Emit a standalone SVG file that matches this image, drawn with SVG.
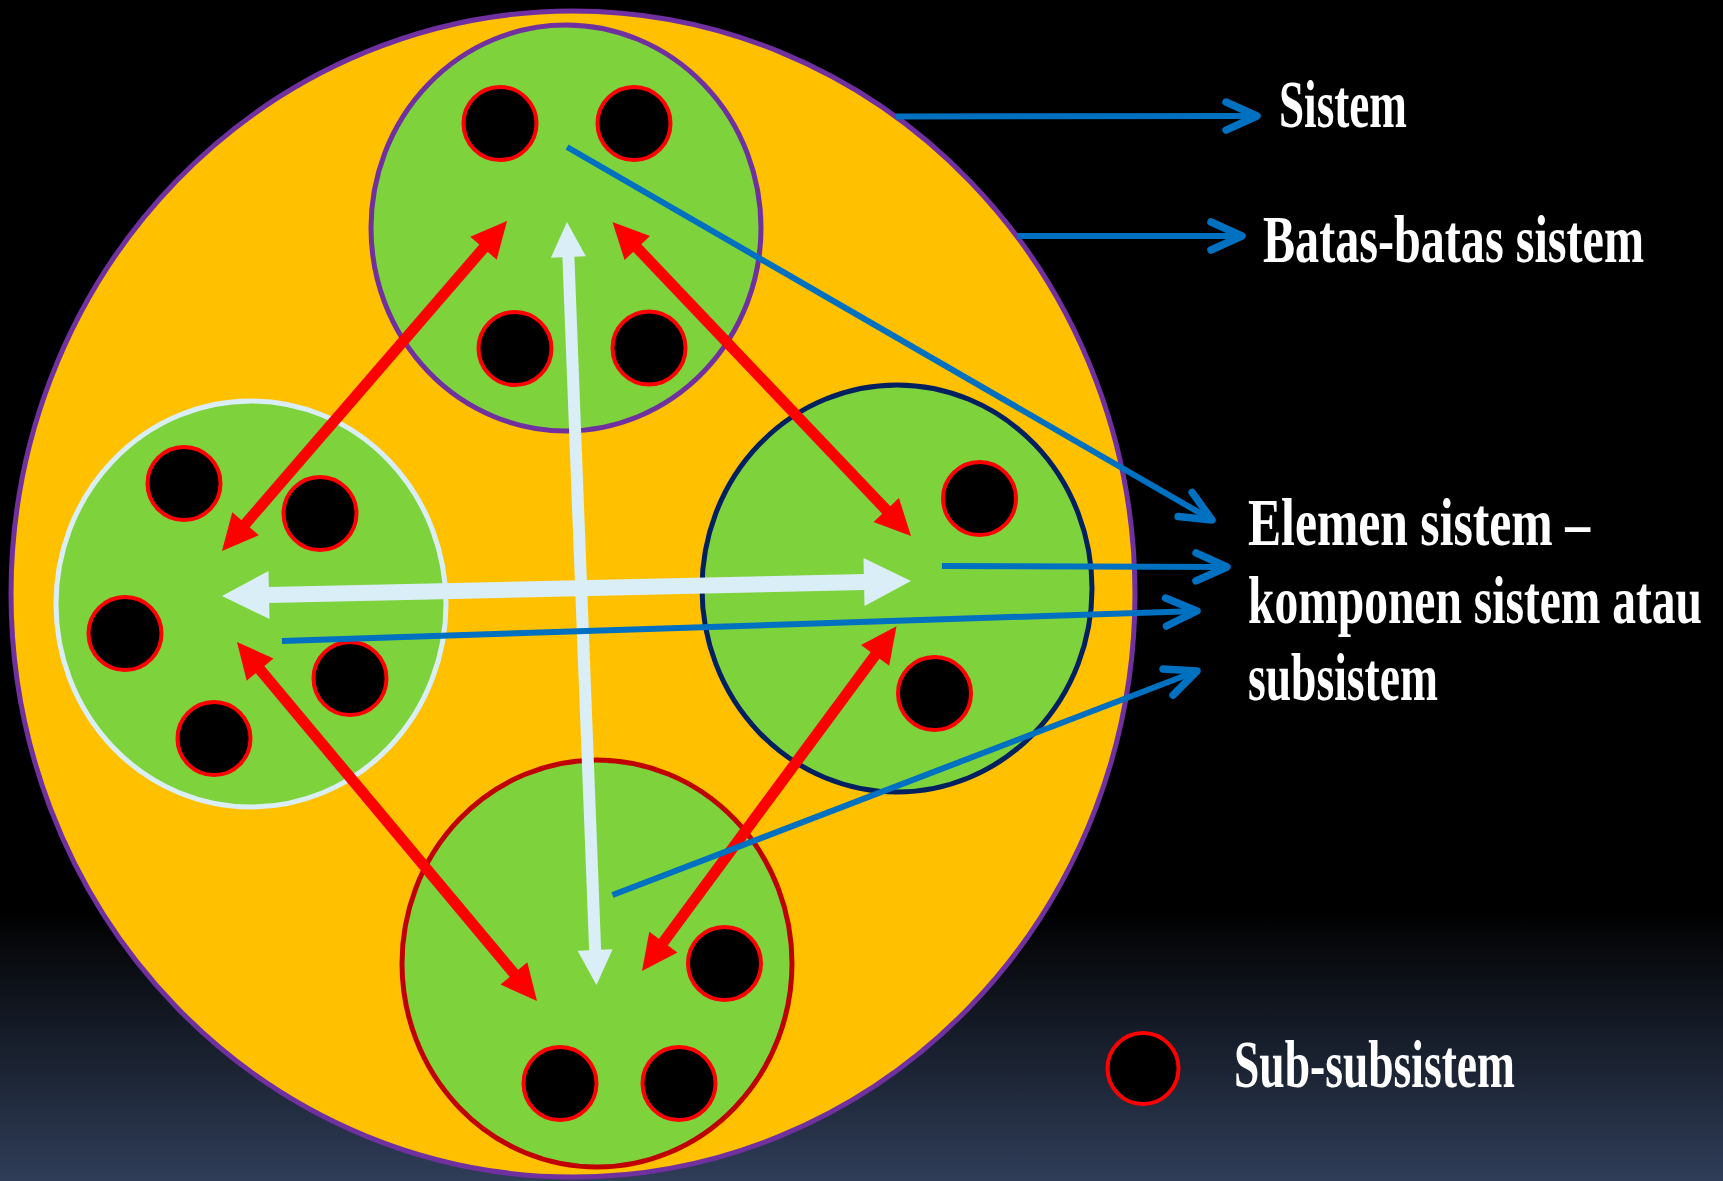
<svg xmlns="http://www.w3.org/2000/svg" width="1723" height="1181" viewBox="0 0 1723 1181">
<defs>
<linearGradient id="bg" x1="0" y1="0" x2="0" y2="1">
<stop offset="0" stop-color="#000000"/>
<stop offset="0.77" stop-color="#000000"/>
<stop offset="1" stop-color="#2F3D58"/>
</linearGradient>
<marker id="redHead" markerUnits="userSpaceOnUse" orient="auto-start-reverse" overflow="visible" markerWidth="1" markerHeight="1">
<path d="M34,0 L-2,-17.5 L-2,17.5 z" fill="#FF0000"/>
</marker>
<marker id="whiteHeadS" markerUnits="userSpaceOnUse" orient="auto-start-reverse" overflow="visible" markerWidth="1" markerHeight="1">
<path d="M33,0 L-2,-17.5 L-2,17.5 z" fill="#DAEEF8"/>
</marker>
<marker id="whiteHeadL" markerUnits="userSpaceOnUse" orient="auto-start-reverse" overflow="visible" markerWidth="1" markerHeight="1">
<path d="M46,0 L-1,-24 L-1,24 z" fill="#DAEEF8"/>
</marker>
<marker id="blueHead" markerUnits="userSpaceOnUse" orient="auto" overflow="visible" markerWidth="1" markerHeight="1">
<path d="M-31,-14 L0,0 L-31,14" fill="none" stroke="#0070C0" stroke-width="7.5" stroke-linecap="round" stroke-linejoin="round"/>
</marker>
</defs>
<style>
.green{fill:#7ED33C;stroke-width:5}
.sub{fill:#000000;stroke:#FF0000;stroke-width:4}
.red{stroke:#FF0000;stroke-width:11;fill:none;marker-start:url(#redHead);marker-end:url(#redHead)}
.blue{stroke:#0070C0;stroke-width:6;fill:none;marker-end:url(#blueHead)}
.label{font-family:"Liberation Serif","DejaVu Serif",serif;font-weight:bold;font-size:68px;fill:#FFFFFF}
</style>
<rect x="0" y="0" width="1723" height="1181" fill="url(#bg)"/>
<g id="sistem">
<ellipse cx="573" cy="594" rx="562" ry="583" fill="#FFC000" stroke="#7030A0" stroke-width="5"/>
</g>
<g id="subsistem-top">
<ellipse class="green" cx="566" cy="228" rx="195" ry="203" stroke="#7030A0"/>
<circle class="sub" cx="500" cy="123.5" r="36.5"/>
<circle class="sub" cx="634" cy="123.5" r="36.5"/>
<circle class="sub" cx="515" cy="348.5" r="36.5"/>
<circle class="sub" cx="649" cy="348" r="36.5"/>
</g>
<g id="subsistem-left">
<ellipse class="green" cx="251" cy="604" rx="195" ry="203" stroke="#DAEEF8"/>
<circle class="sub" cx="184" cy="483.5" r="36.5"/>
<circle class="sub" cx="320" cy="513.5" r="36.5"/>
<circle class="sub" cx="125" cy="633.5" r="36.5"/>
<circle class="sub" cx="350" cy="678.5" r="36.5"/>
<circle class="sub" cx="214" cy="738.5" r="36.5"/>
</g>
<g id="subsistem-right">
<ellipse class="green" cx="897" cy="588.5" rx="195" ry="203.5" stroke="#002060"/>
<circle class="sub" cx="979.5" cy="498.5" r="36.5"/>
<circle class="sub" cx="934.5" cy="693.5" r="36.5"/>
</g>
<g id="subsistem-bottom">
<ellipse class="green" cx="597" cy="963.5" rx="195" ry="203.5" stroke="#C00000"/>
<circle class="sub" cx="724.5" cy="963.5" r="36.5"/>
<circle class="sub" cx="679" cy="1083.5" r="36.5"/>
<circle class="sub" cx="560" cy="1083.5" r="36.5"/>
</g>
<g id="connectors">
<line class="red" x1="484.8" y1="246.7" x2="244.2" y2="525.3"/>
<line class="red" x1="635.9" y1="246.6" x2="887.6" y2="511.4"/>
<line class="red" x1="258.8" y1="668.1" x2="515.2" y2="974.9"/>
<line class="red" x1="662.2" y1="943.7" x2="876.3" y2="653.7"/>
<line x1="568.3" y1="255" x2="595.2" y2="952" stroke="#DAEEF8" stroke-width="12" marker-start="url(#whiteHeadS)" marker-end="url(#whiteHeadS)"/>
<line x1="268" y1="595" x2="865" y2="582" stroke="#DAEEF8" stroke-width="16" marker-start="url(#whiteHeadL)" marker-end="url(#whiteHeadL)"/>
<line class="blue" x1="896" y1="116.5" x2="1257" y2="116"/>
<line class="blue" x1="1017" y1="236" x2="1242" y2="236"/>
<line class="blue" x1="567" y1="147" x2="1212" y2="520"/>
<line class="blue" x1="942" y1="566" x2="1227" y2="567"/>
<line class="blue" x1="282" y1="641" x2="1197" y2="611"/>
<line class="blue" x1="612.5" y1="895" x2="1197" y2="671"/>
</g>
<g id="legend">
<circle class="sub" cx="1143" cy="1068.5" r="35.5"/>
</g>
<g id="labels">
<g transform="translate(1279,127) scale(0.68,1)"><text class="label" x="0" y="0" textLength="188.2" lengthAdjust="spacingAndGlyphs">Sistem</text></g>
<g transform="translate(1263,262) scale(0.68,1)"><text class="label" x="0" y="0" textLength="560.3" lengthAdjust="spacingAndGlyphs">Batas-batas sistem</text></g>
<g transform="translate(1248,545) scale(0.68,1)"><text class="label" x="0" y="0" textLength="502.9" lengthAdjust="spacingAndGlyphs">Elemen sistem –</text></g>
<g transform="translate(1248,623) scale(0.68,1)"><text class="label" x="0" y="0" textLength="667.6" lengthAdjust="spacingAndGlyphs">komponen sistem atau</text></g>
<g transform="translate(1248,700) scale(0.68,1)"><text class="label" x="0" y="0" textLength="279.4" lengthAdjust="spacingAndGlyphs">subsistem</text></g>
<g transform="translate(1234,1087) scale(0.68,1)"><text class="label" x="0" y="0" textLength="413.2" lengthAdjust="spacingAndGlyphs">Sub-subsistem</text></g>
</g>
</svg>
